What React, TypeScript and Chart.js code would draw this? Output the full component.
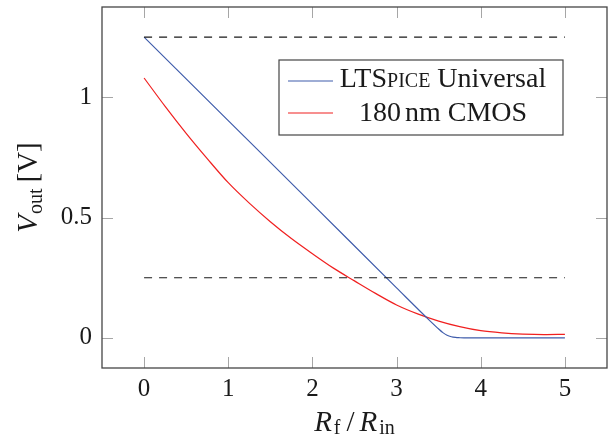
import React, { useEffect, useRef } from 'react';
import { Chart, registerables } from 'chart.js';

Chart.register(...registerables);

// ---- data ----
const xTicks = [0, 1, 2, 3, 4, 5];
const yTicks = [0, 0.5, 1];

const ltspiceX = [0, 1, 2, 3, 3.4, 3.5, 3.55, 3.6, 3.65, 3.7, 3.75, 3.8, 4, 5];
const ltspiceY = [1.25, 0.903, 0.556, 0.208, 0.07, 0.037, 0.022, 0.011, 0.005, 0.002, 0.0007, 0, 0, 0];

const cmosX = [0, 0.25, 0.5, 0.75, 1, 1.25, 1.5, 1.75, 2, 2.25, 2.5, 2.75, 3, 3.25, 3.5, 3.75, 4, 4.25, 4.5, 4.75, 5];
const cmosY = [1.08, 0.962, 0.85, 0.745, 0.645, 0.56, 0.483, 0.413, 0.35, 0.29, 0.237, 0.185, 0.137, 0.1, 0.07, 0.047, 0.03, 0.021, 0.016, 0.014, 0.015];

const refX = [0, 5];
const refLevels = [1.25, 0.25];

const seriesNames = ['LTSpice Universal', '180 nm CMOS'];

const BLUE = '#3f5cab';
const RED = '#f02020';
const SERIF = '"Liberation Serif", "Times New Roman", serif';

type Part = [string, string, number, number];

function drawParts(ctx: CanvasRenderingContext2D, parts: Part[], startX: number, base: number) {
  let px = startX;
  parts.forEach(([t, f, d, gap]) => {
    ctx.font = f;
    ctx.fillText(t, px, base + d);
    px += ctx.measureText(t).width + gap;
  });
}
function partsWidth(ctx: CanvasRenderingContext2D, parts: Part[]) {
  let w = 0;
  parts.forEach(([t, f, , gap]) => {
    ctx.font = f;
    w += ctx.measureText(t).width + gap;
  });
  return w;
}

const framePlugin = {
  id: 'framePlugin',
  afterDraw(chart: any) {
    const { ctx, chartArea, scales } = chart;
    const { left, right, top, bottom } = chartArea;
    const xs = scales.x;
    const ys = scales.y;
    ctx.save();

    // inward ticks on all four sides
    ctx.strokeStyle = '#a6a6a6';
    ctx.lineWidth = 1;
    const tl = 11;
    xTicks.forEach((v) => {
      const px = Math.round(xs.getPixelForValue(v)) + 0.5;
      ctx.beginPath();
      ctx.moveTo(px, bottom);
      ctx.lineTo(px, bottom - tl);
      ctx.moveTo(px, top);
      ctx.lineTo(px, top + tl);
      ctx.stroke();
    });
    yTicks.forEach((v) => {
      const py = Math.round(ys.getPixelForValue(v)) + 0.5;
      ctx.beginPath();
      ctx.moveTo(left, py);
      ctx.lineTo(left + tl, py);
      ctx.moveTo(right, py);
      ctx.lineTo(right - tl, py);
      ctx.stroke();
    });

    // frame
    ctx.strokeStyle = '#454545';
    ctx.lineWidth = 1.3;
    ctx.strokeRect(left, top, right - left, bottom - top);

    // legend
    const bx = right - 328;
    const by = top + 53;
    const bw = 284;
    const bh = 75;
    ctx.fillStyle = '#ffffff';
    ctx.fillRect(bx, by, bw, bh);
    ctx.strokeStyle = '#454545';
    ctx.lineWidth = 1.2;
    ctx.strokeRect(bx, by, bw, bh);

    const colors = [BLUE, RED];
    const lineYs = [by + 21, by + 53];
    colors.forEach((c, i) => {
      ctx.strokeStyle = c;
      ctx.lineWidth = 1.2;
      ctx.beginPath();
      ctx.moveTo(bx + 9, lineYs[i]);
      ctx.lineTo(bx + 54, lineYs[i]);
      ctx.stroke();
    });

    ctx.fillStyle = '#1a1a1a';
    ctx.textBaseline = 'alphabetic';
    ctx.textAlign = 'left';
    const cx = bx + 164;
    const big = `28px ${SERIF}`;
    const small = `20px ${SERIF}`;
    const l1: Part[] = [
      ['LTS', big, 0, 0],
      ['PICE', small, 0, 0],
      [' Universal', big, 0, 0],
    ];
    drawParts(ctx, l1, cx - partsWidth(ctx, l1) / 2, by + 27);
    const l2: Part[] = [
      ['180', big, 0, 4],
      ['nm CMOS', big, 0, 0],
    ];
    drawParts(ctx, l2, cx - partsWidth(ctx, l2) / 2, by + 61);

    // x title: R_f / R_in
    const it = `italic 29px ${SERIF}`;
    const sub = `20px ${SERIF}`;
    const reg = `29px ${SERIF}`;
    const xparts: Part[] = [
      ['R', it, 0, 2],
      ['f', sub, 3, 6],
      ['/', reg, 0, 5],
      ['R', it, 0, 2],
      ['in', sub, 3, 0],
    ];
    const xw = partsWidth(ctx, xparts);
    drawParts(ctx, xparts, (left + right) / 2 - xw / 2, bottom + 63);

    // y title: V_out [V], rotated
    const yparts: Part[] = [
      ['V', it, 0, 1],
      ['out', sub, 5, 6],
      ['[V]', reg, 0, 0],
    ];
    const yw = partsWidth(ctx, yparts);
    ctx.translate(37, (top + bottom) / 2);
    ctx.rotate(-Math.PI / 2);
    drawParts(ctx, yparts, -yw / 2, 0);

    ctx.restore();
  },
};

export default function App() {
  const ref = useRef<HTMLCanvasElement | null>(null);

  useEffect(() => {
    if (!ref.current) return;
    const mk = (xsArr: number[], ysArr: number[]) => xsArr.map((x, i) => ({ x, y: ysArr[i] }));
    const chart = new Chart(ref.current, {
      type: 'line',
      data: {
        datasets: [
          {
            label: 'ref-high',
            data: refX.map((x) => ({ x, y: refLevels[0] })),
            borderColor: '#1a1a1a',
            borderWidth: 1.2,
            borderDash: [8, 7],
            pointRadius: 0,
          },
          {
            label: 'ref-low',
            data: refX.map((x) => ({ x, y: refLevels[1] })),
            borderColor: '#1a1a1a',
            borderWidth: 1.2,
            borderDash: [8, 7],
            pointRadius: 0,
          },
          {
            label: seriesNames[0],
            data: mk(ltspiceX, ltspiceY),
            borderColor: BLUE,
            borderWidth: 1.2,
            pointRadius: 0,
            cubicInterpolationMode: 'monotone',
          },
          {
            label: seriesNames[1],
            data: mk(cmosX, cmosY),
            borderColor: RED,
            borderWidth: 1.2,
            pointRadius: 0,
            cubicInterpolationMode: 'monotone',
          },
        ],
      },
      options: {
        animation: false,
        responsive: false,
        devicePixelRatio: 1,
        layout: { padding: { top: 7, right: 1, left: 0, bottom: 0 } },
        plugins: { legend: { display: false }, tooltip: { enabled: false } },
        scales: {
          x: {
            type: 'linear',
            min: -0.5,
            max: 5.5,
            afterBuildTicks: (s: any) => {
              s.ticks = xTicks.map((v) => ({ value: v }));
            },
            afterFit: (s: any) => {
              s.height = 73;
              s.paddingLeft = 0;
              s.paddingRight = 0;
            },
            grid: { display: false, drawTicks: false },
            border: { display: false },
            ticks: {
              font: { family: SERIF, size: 25 },
              color: '#1a1a1a',
              padding: 6,
              maxRotation: 0,
              autoSkip: false,
              callback: (v: any) => String(v),
            },
          },
          y: {
            type: 'linear',
            min: -0.125,
            max: 1.375,
            afterBuildTicks: (s: any) => {
              s.ticks = yTicks.map((v) => ({ value: v }));
            },
            afterFit: (s: any) => {
              s.width = 102;
              s.paddingTop = 0;
              s.paddingBottom = 0;
            },
            grid: { display: false, drawTicks: false },
            border: { display: false },
            ticks: {
              font: { family: SERIF, size: 25 },
              color: '#1a1a1a',
              padding: 10,
              autoSkip: false,
              callback: (v: any) => String(v),
            },
          },
        },
      },
      plugins: [framePlugin],
    });
    return () => chart.destroy();
  }, []);

  return (
    <div style={{ position: 'fixed', left: 0, top: 0, width: 608, height: 441, background: '#fff' }}>
      <canvas ref={ref} width={608} height={441} style={{ width: 608, height: 441, display: 'block' }} />
    </div>
  );
}
